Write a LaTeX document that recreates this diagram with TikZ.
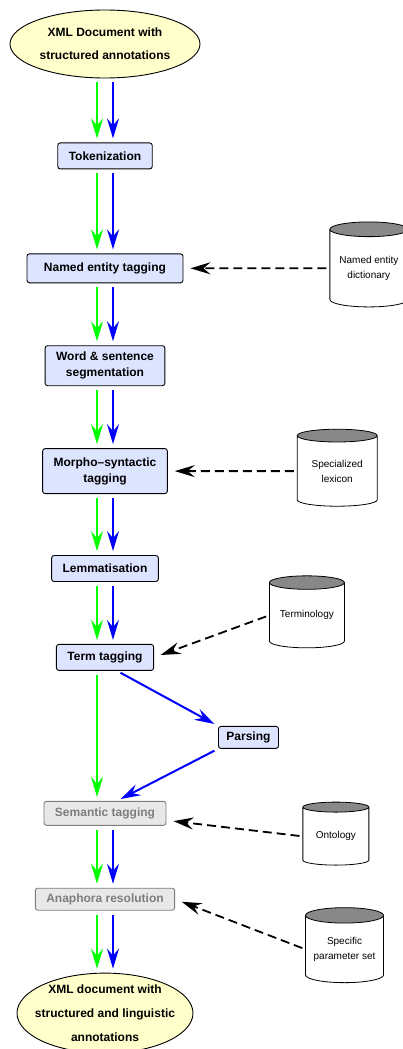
\documentclass[tikz,border=0pt]{standalone}
\usepackage{fontspec}
\setsansfont{Liberation Sans}
\usetikzlibrary{
  shapes.geometric, % Shapes "ellipse" and "cylinder"
  arrows.meta,
  positioning,      % Function "of" (e.g. [below=of x])
}
\definecolor{docyellow}{RGB}{255,255,204}
\definecolor{boxblue}{RGB}{221,228,255}
\definecolor{boxgray}{RGB}{232,232,232}
\definecolor{txtgray}{RGB}{125,125,125}
\definecolor{endgray}{RGB}{136,136,136}
\def\myndist{62pt}
\def\myshift{8pt}
% Green and blue arrow pair from one step to the next
\newcommand{\pair}[2]{
  \draw[green flow] ([xshift=-\myshift]#1.south) -- ([xshift=-\myshift]#2.north);
  \draw[blue flow]  ([xshift=\myshift]#1.south)  -- ([xshift=\myshift]#2.north);
}
\tikzset{
  font=\sffamily,
  >={Stealth[length=20pt,width=12pt,inset=7pt]},
  my doc/.style={
    ellipse,
    draw,
    fill=docyellow,
    line width=0.9pt,
    inner sep=0pt,
    align=center,
    font=\sffamily\bfseries\fontsize{12}{16}\selectfont
  },
  my step/.style={
    rectangle,
    draw,
    fill=boxblue,
    line width=0.9pt,
    rounded corners=2.5pt,
    inner xsep=11pt,
    inner ysep=4pt,
    minimum height=26pt,
    align=center,
    font=\sffamily\bfseries\fontsize{12}{16}\selectfont
  },
  my step off/.style={
    my step,
    draw=txtgray,
    fill=boxgray,
    text=txtgray
  },
  my db/.style={
    cylinder,
    shape border rotate=90,
    draw,
    line width=0.8pt,
    aspect=0.25,
    cylinder uses custom fill,
    cylinder end fill=endgray,
    cylinder body fill=white,
    inner sep=0pt,
    align=center,
    font=\sffamily\fontsize{10}{15}\selectfont
  },
  green flow/.style={
    ->,
    draw=green,
    line width=2pt,
    shorten <=4pt,
    shorten >=4pt
  },
  blue flow/.style={
    green flow,
    draw=blue
  },
  feed/.style={
    ->,
    dash pattern=on 9pt off 5pt,
    line width=1.8pt,
    shorten <=3pt,
    shorten >=7pt
  }
}

\begin{document}
\begin{tikzpicture}[node distance=\myndist]
\useasboundingbox (-105pt,44pt) rectangle (297pt,-1005pt);
% Input document and first steps
\node[my doc,minimum width=190pt,minimum height=68pt] (xml) {XML Document with\\[7pt]structured annotations};
\node[my step,yshift=-2pt]                    (tok) [below=of xml] {Tokenization};
\pair{xml}{tok}
\node[my step,yshift=-22pt,minimum width=156pt,minimum height=29pt] (ne) [below=of tok] {Named entity tagging};
\pair{tok}{ne}
\node[my step,minimum height=40pt]           (ws)  [below=of ne]  {Word \& sentence\\segmentation};
\pair{ne}{ws}
\node[my step,minimum height=45pt]           (ms)  [below=of ws]  {Morpho--syntactic\\tagging};
\pair{ws}{ms}
\node[my step,yshift=1pt]                    (lem) [below=of ms]  {Lemmatisation};
\pair{ms}{lem}
\node[my step]                               (tt)  [below=of lem] {Term tagging};
\pair{lem}{tt}
% Parsing branch
\node[my step,yshift=-80pt,minimum height=22pt,inner xsep=8pt] (parse) [right=64pt of tt] {Parsing};
\node[my step off,yshift=-68pt,minimum height=24pt] (st) [below=of tt] {Semantic tagging};
\draw[green flow] ([xshift=-\myshift]tt.south) -- ([xshift=-\myshift]st.north);
\draw[blue flow]  ([xshift=12pt]tt.south) -- (parse.north west);
\draw[blue flow]  (parse.south west) -- ([xshift=12pt]st.north);
% Last steps and output document
\node[my step off,minimum height=22pt]       (ar)  [below=of st]  {Anaphora resolution};
\pair{st}{ar}
\node[my doc,minimum width=176pt,minimum height=80pt,inner xsep=-9pt,inner ysep=-2pt] (out) [below=of ar] {XML document with\\[8pt]structured and linguistic\\[8pt]annotations};
\pair{ar}{out}
% Resources
\node[my db,minimum width=78pt,minimum height=85pt]               (dict) [right=146pt of ne] {Named entity\\dictionary};
\draw[feed] (dict) -- (ne);
\node[my db,minimum width=80pt,minimum height=77pt]               (lex)  [right=129pt of ms] {Specialized\\lexicon};
\draw[feed] (lex) -- (ms);
\node[my db,yshift=42pt,minimum width=75pt,minimum height=72pt]   (term) [right=115pt of tt] {Terminology};
\draw[feed] (term.west) -- (tt.east);
\node[my db,yshift=-23pt,minimum width=66pt,minimum height=63pt]  (onto) [right=136pt of st] {Ontology};
\draw[feed] (onto.west) -- ([yshift=-7pt]st.east);
\node[my db,yshift=-50pt,minimum width=78pt,minimum height=75pt]  (spec) [right=130pt of ar] {Specific\\parameter set};
\draw[feed] (spec.west) -- (ar.east);
\end{tikzpicture}
\end{document}
